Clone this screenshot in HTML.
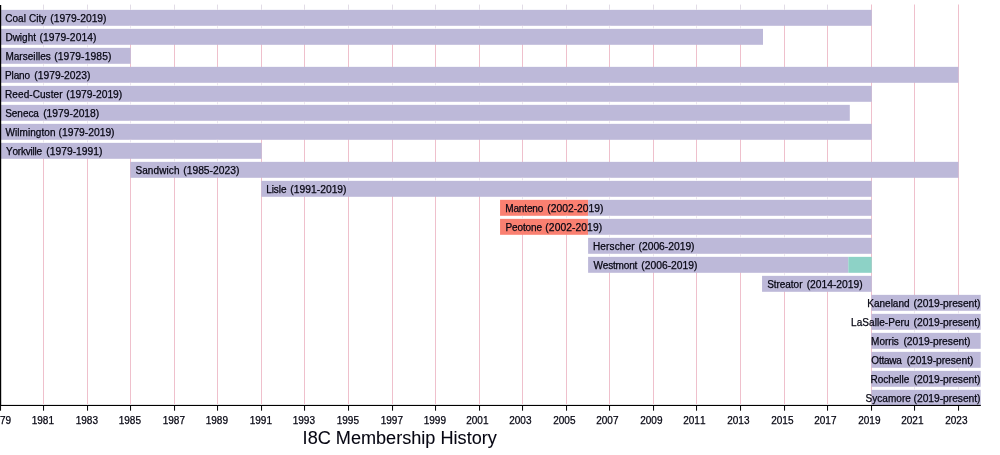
<!DOCTYPE html>
<html><head><meta charset="utf-8"><title>I8C Membership History</title>
<style>
html,body{margin:0;padding:0;background:#fff;}
body{width:1000px;height:455px;overflow:hidden;}
svg{display:block;}
text{font-family:"Liberation Sans",Arial,Helvetica,sans-serif;fill:#060612;white-space:pre;stroke:#060612;stroke-width:0.25px;}
.lb{font-size:10px;}
.lb tspan{font-size:10.3px;}
.tk{font-size:10px;stroke-width:0.1px;}
.tt{font-size:18.13px;stroke-width:0.08px;}
</style></head><body>
<svg width="1000" height="455" viewBox="0 0 1000 455">
<rect width="1000" height="455" fill="#fff"/>

<g stroke="#EFC0CC" stroke-width="1">
<line x1="43.5" y1="4.5" x2="43.5" y2="404"/>
<line x1="87.5" y1="4.5" x2="87.5" y2="404"/>
<line x1="130.5" y1="4.5" x2="130.5" y2="404"/>
<line x1="174.5" y1="4.5" x2="174.5" y2="404"/>
<line x1="217.5" y1="4.5" x2="217.5" y2="404"/>
<line x1="261.5" y1="4.5" x2="261.5" y2="404"/>
<line x1="304.5" y1="4.5" x2="304.5" y2="404"/>
<line x1="348.5" y1="4.5" x2="348.5" y2="404"/>
<line x1="392.5" y1="4.5" x2="392.5" y2="404"/>
<line x1="435.5" y1="4.5" x2="435.5" y2="404"/>
<line x1="479.5" y1="4.5" x2="479.5" y2="404"/>
<line x1="522.5" y1="4.5" x2="522.5" y2="404"/>
<line x1="566.5" y1="4.5" x2="566.5" y2="404"/>
<line x1="609.5" y1="4.5" x2="609.5" y2="404"/>
<line x1="653.5" y1="4.5" x2="653.5" y2="404"/>
<line x1="696.5" y1="4.5" x2="696.5" y2="404"/>
<line x1="740.5" y1="4.5" x2="740.5" y2="404"/>
<line x1="784.5" y1="4.5" x2="784.5" y2="404"/>
<line x1="827.5" y1="4.5" x2="827.5" y2="404"/>
<line x1="871.5" y1="4.5" x2="871.5" y2="404"/>
<line x1="914.5" y1="4.5" x2="914.5" y2="404"/>
<line x1="958.5" y1="4.5" x2="958.5" y2="404"/>
</g>
<g>
<rect x="0.00" y="9.85" width="871.75" height="15.95" fill="#BDB9D9"/>
<rect x="0.00" y="28.85" width="763.00" height="15.95" fill="#BDB9D9"/>
<rect x="0.00" y="47.85" width="130.70" height="15.95" fill="#BDB9D9"/>
<rect x="0.00" y="66.85" width="958.50" height="15.95" fill="#BDB9D9"/>
<rect x="0.00" y="85.85" width="871.75" height="15.95" fill="#BDB9D9"/>
<rect x="0.00" y="104.85" width="849.80" height="15.95" fill="#BDB9D9"/>
<rect x="0.00" y="123.85" width="871.75" height="15.95" fill="#BDB9D9"/>
<rect x="0.00" y="142.85" width="261.70" height="15.95" fill="#BDB9D9"/>
<rect x="130.35" y="161.85" width="828.15" height="15.95" fill="#BDB9D9"/>
<rect x="261.30" y="180.85" width="610.45" height="15.95" fill="#BDB9D9"/>
<rect x="500.05" y="199.85" width="88.05" height="15.95" fill="#FA8071"/>
<rect x="588.10" y="199.85" width="283.65" height="15.95" fill="#BDB9D9"/>
<rect x="500.05" y="218.85" width="88.05" height="15.95" fill="#FA8071"/>
<rect x="588.10" y="218.85" width="283.65" height="15.95" fill="#BDB9D9"/>
<rect x="588.10" y="237.85" width="283.65" height="15.95" fill="#BDB9D9"/>
<rect x="588.10" y="256.85" width="260.20" height="15.95" fill="#BDB9D9"/>
<rect x="848.30" y="256.85" width="23.45" height="15.95" fill="#8DD2C6"/>
<rect x="762.05" y="275.85" width="109.70" height="15.95" fill="#BDB9D9"/>
<rect x="871.40" y="294.85" width="109.30" height="15.95" fill="#BDB9D9"/>
<rect x="871.40" y="313.85" width="109.30" height="15.95" fill="#BDB9D9"/>
<rect x="871.40" y="332.85" width="109.30" height="15.95" fill="#BDB9D9"/>
<rect x="871.40" y="351.85" width="109.30" height="15.95" fill="#BDB9D9"/>
<rect x="871.40" y="370.85" width="109.30" height="15.95" fill="#BDB9D9"/>
<rect x="871.40" y="389.85" width="109.30" height="15.95" fill="#BDB9D9"/>
</g>
<g fill="#EAE6F0">
<rect x="42.7" y="4" width="1.6" height="5.85" fill="#fff"/>
<rect x="43" y="4.6" width="1" height="5.25" fill="#E2DCE6"/>
<rect x="86.7" y="4" width="1.6" height="5.85" fill="#fff"/>
<rect x="87" y="4.6" width="1" height="5.25" fill="#E2DCE6"/>
<rect x="129.7" y="4" width="1.6" height="5.85" fill="#fff"/>
<rect x="130" y="4.6" width="1" height="5.25" fill="#E2DCE6"/>
<rect x="173.7" y="4" width="1.6" height="5.85" fill="#fff"/>
<rect x="174" y="4.6" width="1" height="5.25" fill="#E2DCE6"/>
<rect x="216.7" y="4" width="1.6" height="5.85" fill="#fff"/>
<rect x="217" y="4.6" width="1" height="5.25" fill="#E2DCE6"/>
<rect x="260.7" y="4" width="1.6" height="5.85" fill="#fff"/>
<rect x="261" y="4.6" width="1" height="5.25" fill="#E2DCE6"/>
<rect x="303.7" y="4" width="1.6" height="5.85" fill="#fff"/>
<rect x="304" y="4.6" width="1" height="5.25" fill="#E2DCE6"/>
<rect x="347.7" y="4" width="1.6" height="5.85" fill="#fff"/>
<rect x="348" y="4.6" width="1" height="5.25" fill="#E2DCE6"/>
<rect x="391.7" y="4" width="1.6" height="5.85" fill="#fff"/>
<rect x="392" y="4.6" width="1" height="5.25" fill="#E2DCE6"/>
<rect x="434.7" y="4" width="1.6" height="5.85" fill="#fff"/>
<rect x="435" y="4.6" width="1" height="5.25" fill="#E2DCE6"/>
<rect x="478.7" y="4" width="1.6" height="5.85" fill="#fff"/>
<rect x="479" y="4.6" width="1" height="5.25" fill="#E2DCE6"/>
<rect x="521.7" y="4" width="1.6" height="5.85" fill="#fff"/>
<rect x="522" y="4.6" width="1" height="5.25" fill="#E2DCE6"/>
<rect x="565.7" y="4" width="1.6" height="5.85" fill="#fff"/>
<rect x="566" y="4.6" width="1" height="5.25" fill="#E2DCE6"/>
<rect x="608.7" y="4" width="1.6" height="5.85" fill="#fff"/>
<rect x="609" y="4.6" width="1" height="5.25" fill="#E2DCE6"/>
<rect x="652.7" y="4" width="1.6" height="5.85" fill="#fff"/>
<rect x="653" y="4.6" width="1" height="5.25" fill="#E2DCE6"/>
<rect x="695.7" y="4" width="1.6" height="5.85" fill="#fff"/>
<rect x="696" y="4.6" width="1" height="5.25" fill="#E2DCE6"/>
<rect x="739.7" y="4" width="1.6" height="5.85" fill="#fff"/>
<rect x="740" y="4.6" width="1" height="5.25" fill="#E2DCE6"/>
<rect x="783.7" y="4" width="1.6" height="5.85" fill="#fff"/>
<rect x="784" y="4.6" width="1" height="5.25" fill="#E2DCE6"/>
<rect x="826.7" y="4" width="1.6" height="5.85" fill="#fff"/>
<rect x="827" y="4.6" width="1" height="5.25" fill="#E2DCE6"/>
<rect x="42.7" y="25.80" width="1.6" height="3.05" fill="#fff"/>
<rect x="43" y="26.10" width="1" height="2.45"/>
<rect x="86.7" y="25.80" width="1.6" height="3.05" fill="#fff"/>
<rect x="87" y="26.10" width="1" height="2.45"/>
<rect x="129.7" y="25.80" width="1.6" height="3.05" fill="#fff"/>
<rect x="130" y="26.10" width="1" height="2.45"/>
<rect x="173.7" y="25.80" width="1.6" height="3.05" fill="#fff"/>
<rect x="174" y="26.10" width="1" height="2.45"/>
<rect x="216.7" y="25.80" width="1.6" height="3.05" fill="#fff"/>
<rect x="217" y="26.10" width="1" height="2.45"/>
<rect x="260.7" y="25.80" width="1.6" height="3.05" fill="#fff"/>
<rect x="261" y="26.10" width="1" height="2.45"/>
<rect x="303.7" y="25.80" width="1.6" height="3.05" fill="#fff"/>
<rect x="304" y="26.10" width="1" height="2.45"/>
<rect x="347.7" y="25.80" width="1.6" height="3.05" fill="#fff"/>
<rect x="348" y="26.10" width="1" height="2.45"/>
<rect x="391.7" y="25.80" width="1.6" height="3.05" fill="#fff"/>
<rect x="392" y="26.10" width="1" height="2.45"/>
<rect x="434.7" y="25.80" width="1.6" height="3.05" fill="#fff"/>
<rect x="435" y="26.10" width="1" height="2.45"/>
<rect x="478.7" y="25.80" width="1.6" height="3.05" fill="#fff"/>
<rect x="479" y="26.10" width="1" height="2.45"/>
<rect x="521.7" y="25.80" width="1.6" height="3.05" fill="#fff"/>
<rect x="522" y="26.10" width="1" height="2.45"/>
<rect x="565.7" y="25.80" width="1.6" height="3.05" fill="#fff"/>
<rect x="566" y="26.10" width="1" height="2.45"/>
<rect x="608.7" y="25.80" width="1.6" height="3.05" fill="#fff"/>
<rect x="609" y="26.10" width="1" height="2.45"/>
<rect x="652.7" y="25.80" width="1.6" height="3.05" fill="#fff"/>
<rect x="653" y="26.10" width="1" height="2.45"/>
<rect x="695.7" y="25.80" width="1.6" height="3.05" fill="#fff"/>
<rect x="696" y="26.10" width="1" height="2.45"/>
<rect x="739.7" y="25.80" width="1.6" height="3.05" fill="#fff"/>
<rect x="740" y="26.10" width="1" height="2.45"/>
<rect x="42.7" y="44.80" width="1.6" height="3.05" fill="#fff"/>
<rect x="43" y="45.10" width="1" height="2.45"/>
<rect x="86.7" y="44.80" width="1.6" height="3.05" fill="#fff"/>
<rect x="87" y="45.10" width="1" height="2.45"/>
<rect x="42.7" y="63.80" width="1.6" height="3.05" fill="#fff"/>
<rect x="43" y="64.10" width="1" height="2.45"/>
<rect x="86.7" y="63.80" width="1.6" height="3.05" fill="#fff"/>
<rect x="87" y="64.10" width="1" height="2.45"/>
<rect x="42.7" y="82.80" width="1.6" height="3.05" fill="#fff"/>
<rect x="43" y="83.10" width="1" height="2.45"/>
<rect x="86.7" y="82.80" width="1.6" height="3.05" fill="#fff"/>
<rect x="87" y="83.10" width="1" height="2.45"/>
<rect x="129.7" y="82.80" width="1.6" height="3.05" fill="#fff"/>
<rect x="130" y="83.10" width="1" height="2.45"/>
<rect x="173.7" y="82.80" width="1.6" height="3.05" fill="#fff"/>
<rect x="174" y="83.10" width="1" height="2.45"/>
<rect x="216.7" y="82.80" width="1.6" height="3.05" fill="#fff"/>
<rect x="217" y="83.10" width="1" height="2.45"/>
<rect x="260.7" y="82.80" width="1.6" height="3.05" fill="#fff"/>
<rect x="261" y="83.10" width="1" height="2.45"/>
<rect x="303.7" y="82.80" width="1.6" height="3.05" fill="#fff"/>
<rect x="304" y="83.10" width="1" height="2.45"/>
<rect x="347.7" y="82.80" width="1.6" height="3.05" fill="#fff"/>
<rect x="348" y="83.10" width="1" height="2.45"/>
<rect x="391.7" y="82.80" width="1.6" height="3.05" fill="#fff"/>
<rect x="392" y="83.10" width="1" height="2.45"/>
<rect x="434.7" y="82.80" width="1.6" height="3.05" fill="#fff"/>
<rect x="435" y="83.10" width="1" height="2.45"/>
<rect x="478.7" y="82.80" width="1.6" height="3.05" fill="#fff"/>
<rect x="479" y="83.10" width="1" height="2.45"/>
<rect x="521.7" y="82.80" width="1.6" height="3.05" fill="#fff"/>
<rect x="522" y="83.10" width="1" height="2.45"/>
<rect x="565.7" y="82.80" width="1.6" height="3.05" fill="#fff"/>
<rect x="566" y="83.10" width="1" height="2.45"/>
<rect x="608.7" y="82.80" width="1.6" height="3.05" fill="#fff"/>
<rect x="609" y="83.10" width="1" height="2.45"/>
<rect x="652.7" y="82.80" width="1.6" height="3.05" fill="#fff"/>
<rect x="653" y="83.10" width="1" height="2.45"/>
<rect x="695.7" y="82.80" width="1.6" height="3.05" fill="#fff"/>
<rect x="696" y="83.10" width="1" height="2.45"/>
<rect x="739.7" y="82.80" width="1.6" height="3.05" fill="#fff"/>
<rect x="740" y="83.10" width="1" height="2.45"/>
<rect x="783.7" y="82.80" width="1.6" height="3.05" fill="#fff"/>
<rect x="784" y="83.10" width="1" height="2.45"/>
<rect x="826.7" y="82.80" width="1.6" height="3.05" fill="#fff"/>
<rect x="827" y="83.10" width="1" height="2.45"/>
<rect x="42.7" y="101.80" width="1.6" height="3.05" fill="#fff"/>
<rect x="43" y="102.10" width="1" height="2.45"/>
<rect x="86.7" y="101.80" width="1.6" height="3.05" fill="#fff"/>
<rect x="87" y="102.10" width="1" height="2.45"/>
<rect x="129.7" y="101.80" width="1.6" height="3.05" fill="#fff"/>
<rect x="130" y="102.10" width="1" height="2.45"/>
<rect x="173.7" y="101.80" width="1.6" height="3.05" fill="#fff"/>
<rect x="174" y="102.10" width="1" height="2.45"/>
<rect x="216.7" y="101.80" width="1.6" height="3.05" fill="#fff"/>
<rect x="217" y="102.10" width="1" height="2.45"/>
<rect x="260.7" y="101.80" width="1.6" height="3.05" fill="#fff"/>
<rect x="261" y="102.10" width="1" height="2.45"/>
<rect x="303.7" y="101.80" width="1.6" height="3.05" fill="#fff"/>
<rect x="304" y="102.10" width="1" height="2.45"/>
<rect x="347.7" y="101.80" width="1.6" height="3.05" fill="#fff"/>
<rect x="348" y="102.10" width="1" height="2.45"/>
<rect x="391.7" y="101.80" width="1.6" height="3.05" fill="#fff"/>
<rect x="392" y="102.10" width="1" height="2.45"/>
<rect x="434.7" y="101.80" width="1.6" height="3.05" fill="#fff"/>
<rect x="435" y="102.10" width="1" height="2.45"/>
<rect x="478.7" y="101.80" width="1.6" height="3.05" fill="#fff"/>
<rect x="479" y="102.10" width="1" height="2.45"/>
<rect x="521.7" y="101.80" width="1.6" height="3.05" fill="#fff"/>
<rect x="522" y="102.10" width="1" height="2.45"/>
<rect x="565.7" y="101.80" width="1.6" height="3.05" fill="#fff"/>
<rect x="566" y="102.10" width="1" height="2.45"/>
<rect x="608.7" y="101.80" width="1.6" height="3.05" fill="#fff"/>
<rect x="609" y="102.10" width="1" height="2.45"/>
<rect x="652.7" y="101.80" width="1.6" height="3.05" fill="#fff"/>
<rect x="653" y="102.10" width="1" height="2.45"/>
<rect x="695.7" y="101.80" width="1.6" height="3.05" fill="#fff"/>
<rect x="696" y="102.10" width="1" height="2.45"/>
<rect x="739.7" y="101.80" width="1.6" height="3.05" fill="#fff"/>
<rect x="740" y="102.10" width="1" height="2.45"/>
<rect x="783.7" y="101.80" width="1.6" height="3.05" fill="#fff"/>
<rect x="784" y="102.10" width="1" height="2.45"/>
<rect x="826.7" y="101.80" width="1.6" height="3.05" fill="#fff"/>
<rect x="827" y="102.10" width="1" height="2.45"/>
<rect x="42.7" y="120.80" width="1.6" height="3.05" fill="#fff"/>
<rect x="43" y="121.10" width="1" height="2.45"/>
<rect x="86.7" y="120.80" width="1.6" height="3.05" fill="#fff"/>
<rect x="87" y="121.10" width="1" height="2.45"/>
<rect x="129.7" y="120.80" width="1.6" height="3.05" fill="#fff"/>
<rect x="130" y="121.10" width="1" height="2.45"/>
<rect x="173.7" y="120.80" width="1.6" height="3.05" fill="#fff"/>
<rect x="174" y="121.10" width="1" height="2.45"/>
<rect x="216.7" y="120.80" width="1.6" height="3.05" fill="#fff"/>
<rect x="217" y="121.10" width="1" height="2.45"/>
<rect x="260.7" y="120.80" width="1.6" height="3.05" fill="#fff"/>
<rect x="261" y="121.10" width="1" height="2.45"/>
<rect x="303.7" y="120.80" width="1.6" height="3.05" fill="#fff"/>
<rect x="304" y="121.10" width="1" height="2.45"/>
<rect x="347.7" y="120.80" width="1.6" height="3.05" fill="#fff"/>
<rect x="348" y="121.10" width="1" height="2.45"/>
<rect x="391.7" y="120.80" width="1.6" height="3.05" fill="#fff"/>
<rect x="392" y="121.10" width="1" height="2.45"/>
<rect x="434.7" y="120.80" width="1.6" height="3.05" fill="#fff"/>
<rect x="435" y="121.10" width="1" height="2.45"/>
<rect x="478.7" y="120.80" width="1.6" height="3.05" fill="#fff"/>
<rect x="479" y="121.10" width="1" height="2.45"/>
<rect x="521.7" y="120.80" width="1.6" height="3.05" fill="#fff"/>
<rect x="522" y="121.10" width="1" height="2.45"/>
<rect x="565.7" y="120.80" width="1.6" height="3.05" fill="#fff"/>
<rect x="566" y="121.10" width="1" height="2.45"/>
<rect x="608.7" y="120.80" width="1.6" height="3.05" fill="#fff"/>
<rect x="609" y="121.10" width="1" height="2.45"/>
<rect x="652.7" y="120.80" width="1.6" height="3.05" fill="#fff"/>
<rect x="653" y="121.10" width="1" height="2.45"/>
<rect x="695.7" y="120.80" width="1.6" height="3.05" fill="#fff"/>
<rect x="696" y="121.10" width="1" height="2.45"/>
<rect x="739.7" y="120.80" width="1.6" height="3.05" fill="#fff"/>
<rect x="740" y="121.10" width="1" height="2.45"/>
<rect x="783.7" y="120.80" width="1.6" height="3.05" fill="#fff"/>
<rect x="784" y="121.10" width="1" height="2.45"/>
<rect x="826.7" y="120.80" width="1.6" height="3.05" fill="#fff"/>
<rect x="827" y="121.10" width="1" height="2.45"/>
<rect x="42.7" y="139.80" width="1.6" height="3.05" fill="#fff"/>
<rect x="43" y="140.10" width="1" height="2.45"/>
<rect x="86.7" y="139.80" width="1.6" height="3.05" fill="#fff"/>
<rect x="87" y="140.10" width="1" height="2.45"/>
<rect x="129.7" y="139.80" width="1.6" height="3.05" fill="#fff"/>
<rect x="130" y="140.10" width="1" height="2.45"/>
<rect x="173.7" y="139.80" width="1.6" height="3.05" fill="#fff"/>
<rect x="174" y="140.10" width="1" height="2.45"/>
<rect x="216.7" y="139.80" width="1.6" height="3.05" fill="#fff"/>
<rect x="217" y="140.10" width="1" height="2.45"/>
<rect x="173.7" y="158.80" width="1.6" height="3.05" fill="#fff"/>
<rect x="174" y="159.10" width="1" height="2.45"/>
<rect x="216.7" y="158.80" width="1.6" height="3.05" fill="#fff"/>
<rect x="217" y="159.10" width="1" height="2.45"/>
<rect x="303.7" y="177.80" width="1.6" height="3.05" fill="#fff"/>
<rect x="304" y="178.10" width="1" height="2.45"/>
<rect x="347.7" y="177.80" width="1.6" height="3.05" fill="#fff"/>
<rect x="348" y="178.10" width="1" height="2.45"/>
<rect x="391.7" y="177.80" width="1.6" height="3.05" fill="#fff"/>
<rect x="392" y="178.10" width="1" height="2.45"/>
<rect x="434.7" y="177.80" width="1.6" height="3.05" fill="#fff"/>
<rect x="435" y="178.10" width="1" height="2.45"/>
<rect x="478.7" y="177.80" width="1.6" height="3.05" fill="#fff"/>
<rect x="479" y="178.10" width="1" height="2.45"/>
<rect x="521.7" y="177.80" width="1.6" height="3.05" fill="#fff"/>
<rect x="522" y="178.10" width="1" height="2.45"/>
<rect x="565.7" y="177.80" width="1.6" height="3.05" fill="#fff"/>
<rect x="566" y="178.10" width="1" height="2.45"/>
<rect x="608.7" y="177.80" width="1.6" height="3.05" fill="#fff"/>
<rect x="609" y="178.10" width="1" height="2.45"/>
<rect x="652.7" y="177.80" width="1.6" height="3.05" fill="#fff"/>
<rect x="653" y="178.10" width="1" height="2.45"/>
<rect x="695.7" y="177.80" width="1.6" height="3.05" fill="#fff"/>
<rect x="696" y="178.10" width="1" height="2.45"/>
<rect x="739.7" y="177.80" width="1.6" height="3.05" fill="#fff"/>
<rect x="740" y="178.10" width="1" height="2.45"/>
<rect x="783.7" y="177.80" width="1.6" height="3.05" fill="#fff"/>
<rect x="784" y="178.10" width="1" height="2.45"/>
<rect x="826.7" y="177.80" width="1.6" height="3.05" fill="#fff"/>
<rect x="827" y="178.10" width="1" height="2.45"/>
<rect x="521.7" y="196.80" width="1.6" height="3.05" fill="#fff"/>
<rect x="522" y="197.10" width="1" height="2.45"/>
<rect x="565.7" y="196.80" width="1.6" height="3.05" fill="#fff"/>
<rect x="566" y="197.10" width="1" height="2.45"/>
<rect x="608.7" y="196.80" width="1.6" height="3.05" fill="#fff"/>
<rect x="609" y="197.10" width="1" height="2.45"/>
<rect x="652.7" y="196.80" width="1.6" height="3.05" fill="#fff"/>
<rect x="653" y="197.10" width="1" height="2.45"/>
<rect x="695.7" y="196.80" width="1.6" height="3.05" fill="#fff"/>
<rect x="696" y="197.10" width="1" height="2.45"/>
<rect x="739.7" y="196.80" width="1.6" height="3.05" fill="#fff"/>
<rect x="740" y="197.10" width="1" height="2.45"/>
<rect x="783.7" y="196.80" width="1.6" height="3.05" fill="#fff"/>
<rect x="784" y="197.10" width="1" height="2.45"/>
<rect x="826.7" y="196.80" width="1.6" height="3.05" fill="#fff"/>
<rect x="827" y="197.10" width="1" height="2.45"/>
<rect x="521.7" y="215.80" width="1.6" height="3.05" fill="#fff"/>
<rect x="522" y="216.10" width="1" height="2.45"/>
<rect x="565.7" y="215.80" width="1.6" height="3.05" fill="#fff"/>
<rect x="566" y="216.10" width="1" height="2.45"/>
<rect x="608.7" y="215.80" width="1.6" height="3.05" fill="#fff"/>
<rect x="609" y="216.10" width="1" height="2.45"/>
<rect x="652.7" y="215.80" width="1.6" height="3.05" fill="#fff"/>
<rect x="653" y="216.10" width="1" height="2.45"/>
<rect x="695.7" y="215.80" width="1.6" height="3.05" fill="#fff"/>
<rect x="696" y="216.10" width="1" height="2.45"/>
<rect x="739.7" y="215.80" width="1.6" height="3.05" fill="#fff"/>
<rect x="740" y="216.10" width="1" height="2.45"/>
<rect x="783.7" y="215.80" width="1.6" height="3.05" fill="#fff"/>
<rect x="784" y="216.10" width="1" height="2.45"/>
<rect x="826.7" y="215.80" width="1.6" height="3.05" fill="#fff"/>
<rect x="827" y="216.10" width="1" height="2.45"/>
<rect x="608.7" y="234.80" width="1.6" height="3.05" fill="#fff"/>
<rect x="609" y="235.10" width="1" height="2.45"/>
<rect x="652.7" y="234.80" width="1.6" height="3.05" fill="#fff"/>
<rect x="653" y="235.10" width="1" height="2.45"/>
<rect x="695.7" y="234.80" width="1.6" height="3.05" fill="#fff"/>
<rect x="696" y="235.10" width="1" height="2.45"/>
<rect x="739.7" y="234.80" width="1.6" height="3.05" fill="#fff"/>
<rect x="740" y="235.10" width="1" height="2.45"/>
<rect x="783.7" y="234.80" width="1.6" height="3.05" fill="#fff"/>
<rect x="784" y="235.10" width="1" height="2.45"/>
<rect x="826.7" y="234.80" width="1.6" height="3.05" fill="#fff"/>
<rect x="827" y="235.10" width="1" height="2.45"/>
<rect x="608.7" y="253.80" width="1.6" height="3.05" fill="#fff"/>
<rect x="609" y="254.10" width="1" height="2.45"/>
<rect x="652.7" y="253.80" width="1.6" height="3.05" fill="#fff"/>
<rect x="653" y="254.10" width="1" height="2.45"/>
<rect x="695.7" y="253.80" width="1.6" height="3.05" fill="#fff"/>
<rect x="696" y="254.10" width="1" height="2.45"/>
<rect x="739.7" y="253.80" width="1.6" height="3.05" fill="#fff"/>
<rect x="740" y="254.10" width="1" height="2.45"/>
<rect x="783.7" y="253.80" width="1.6" height="3.05" fill="#fff"/>
<rect x="784" y="254.10" width="1" height="2.45"/>
<rect x="826.7" y="253.80" width="1.6" height="3.05" fill="#fff"/>
<rect x="827" y="254.10" width="1" height="2.45"/>
<rect x="783.7" y="272.80" width="1.6" height="3.05" fill="#fff"/>
<rect x="784" y="273.10" width="1" height="2.45"/>
<rect x="826.7" y="272.80" width="1.6" height="3.05" fill="#fff"/>
<rect x="827" y="273.10" width="1" height="2.45"/>
<rect x="913.7" y="310.80" width="1.6" height="3.05" fill="#fff"/>
<rect x="914" y="311.10" width="1" height="2.45"/>
<rect x="957.7" y="310.80" width="1.6" height="3.05" fill="#fff"/>
<rect x="958" y="311.10" width="1" height="2.45"/>
<rect x="913.7" y="329.80" width="1.6" height="3.05" fill="#fff"/>
<rect x="914" y="330.10" width="1" height="2.45"/>
<rect x="957.7" y="329.80" width="1.6" height="3.05" fill="#fff"/>
<rect x="958" y="330.10" width="1" height="2.45"/>
<rect x="913.7" y="348.80" width="1.6" height="3.05" fill="#fff"/>
<rect x="914" y="349.10" width="1" height="2.45"/>
<rect x="957.7" y="348.80" width="1.6" height="3.05" fill="#fff"/>
<rect x="958" y="349.10" width="1" height="2.45"/>
<rect x="913.7" y="367.80" width="1.6" height="3.05" fill="#fff"/>
<rect x="914" y="368.10" width="1" height="2.45"/>
<rect x="957.7" y="367.80" width="1.6" height="3.05" fill="#fff"/>
<rect x="958" y="368.10" width="1" height="2.45"/>
<rect x="913.7" y="386.80" width="1.6" height="3.05" fill="#fff"/>
<rect x="914" y="387.10" width="1" height="2.45"/>
<rect x="957.7" y="386.80" width="1.6" height="3.05" fill="#fff"/>
<rect x="958" y="387.10" width="1" height="2.45"/>
</g>
<rect x="0" y="5" width="1.2" height="400.5" fill="#000"/>
<rect x="0" y="404.9" width="980.8" height="1.1" fill="#000"/>
<g stroke="#000" stroke-width="1">
<line x1="0.55" y1="405" x2="0.55" y2="410.7"/>
<line x1="43.55" y1="405" x2="43.55" y2="410.7"/>
<line x1="87.55" y1="405" x2="87.55" y2="410.7"/>
<line x1="130.55" y1="405" x2="130.55" y2="410.7"/>
<line x1="174.55" y1="405" x2="174.55" y2="410.7"/>
<line x1="217.55" y1="405" x2="217.55" y2="410.7"/>
<line x1="261.55" y1="405" x2="261.55" y2="410.7"/>
<line x1="304.55" y1="405" x2="304.55" y2="410.7"/>
<line x1="348.55" y1="405" x2="348.55" y2="410.7"/>
<line x1="392.55" y1="405" x2="392.55" y2="410.7"/>
<line x1="435.55" y1="405" x2="435.55" y2="410.7"/>
<line x1="479.55" y1="405" x2="479.55" y2="410.7"/>
<line x1="522.55" y1="405" x2="522.55" y2="410.7"/>
<line x1="566.55" y1="405" x2="566.55" y2="410.7"/>
<line x1="609.55" y1="405" x2="609.55" y2="410.7"/>
<line x1="653.55" y1="405" x2="653.55" y2="410.7"/>
<line x1="696.55" y1="405" x2="696.55" y2="410.7"/>
<line x1="740.55" y1="405" x2="740.55" y2="410.7"/>
<line x1="784.55" y1="405" x2="784.55" y2="410.7"/>
<line x1="827.55" y1="405" x2="827.55" y2="410.7"/>
<line x1="871.55" y1="405" x2="871.55" y2="410.7"/>
<line x1="914.55" y1="405" x2="914.55" y2="410.7"/>
<line x1="958.55" y1="405" x2="958.55" y2="410.7"/>
</g>
<g class="tk">
<text x="-11.26 -5.7 -0.14 5.42" y="423.7">1979</text>
<text x="31.74 37.3 42.86 48.42" y="423.7">1981</text>
<text x="75.74 81.3 86.86 92.42" y="423.7">1983</text>
<text x="118.74 124.3 129.86 135.42" y="423.7">1985</text>
<text x="162.74 168.3 173.86 179.42" y="423.7">1987</text>
<text x="205.74 211.3 216.86 222.42" y="423.7">1989</text>
<text x="249.74 255.3 260.86 266.42" y="423.7">1991</text>
<text x="292.74 298.3 303.86 309.42" y="423.7">1993</text>
<text x="336.74 342.3 347.86 353.42" y="423.7">1995</text>
<text x="380.74 386.3 391.86 397.42" y="423.7">1997</text>
<text x="423.74 429.3 434.86 440.42" y="423.7">1999</text>
<text x="466.2 471.76 477.32 482.88" y="423.7">2001</text>
<text x="509.2 514.76 520.32 525.88" y="423.7">2003</text>
<text x="553.2 558.76 564.32 569.88" y="423.7">2005</text>
<text x="596.2 601.76 607.32 612.88" y="423.7">2007</text>
<text x="640.2 645.76 651.32 656.88" y="423.7">2009</text>
<text x="683.2 688.76 694.32 699.88" y="423.7">2011</text>
<text x="727.2 732.76 738.32 743.88" y="423.7">2013</text>
<text x="771.2 776.76 782.32 787.88" y="423.7">2015</text>
<text x="814.2 819.76 825.32 830.88" y="423.7">2017</text>
<text x="858.2 863.76 869.32 874.88" y="423.7">2019</text>
<text x="901.2 906.76 912.32 917.88" y="423.7">2021</text>
<text x="945.2 950.76 956.32 961.88" y="423.7">2023</text>
</g>
<g class="lb">
<text y="21.85"><tspan style="font-size:10px" x="5.19 12.48 18.12 23.75 26.04 28.89 36.18 38.47 41.32 46.32">Coal City </tspan><tspan x="50.36 53.8 59.53 65.27 71 76.74 80.17 85.91 91.64 97.37 103.11">(1979-2019)</tspan></text>
<text y="40.85"><tspan style="font-size:10px" x="5.38 12.63 19.87 22.12 27.71 33.29 36.07">Dwight </tspan><tspan x="39.46 42.99 48.81 54.64 60.46 66.29 69.81 75.64 81.46 87.28 93.11">(1979-2014)</tspan></text>
<text y="59.85"><tspan style="font-size:10px" x="5.38 13.75 19.35 22.73 27.77 33.37 35.63 37.9 40.16 45.76 50.76">Marseilles </tspan><tspan x="54.16 57.71 63.55 69.4 75.24 81.09 84.63 90.48 96.32 102.16 108.01">(1979-1985)</tspan></text>
<text y="78.85"><tspan style="font-size:10px" x="4.98 11.54 13.65 19.11 24.56 30.12">Plano </tspan><tspan x="34.36 37.78 43.49 49.21 54.92 60.64 64.05 69.77 75.48 81.19 86.91">(1979-2023)</tspan></text>
<text y="97.85"><tspan style="font-size:10px" x="5.08 12.37 18 23.63 29.26 32.66 39.96 45.59 50.66 53.5 59.14 62.47">Reed-Custer </tspan><tspan x="66.26 69.68 75.39 81.11 86.82 92.54 95.95 101.67 107.38 113.09 118.81">(1979-2019)</tspan></text>
<text y="116.85"><tspan style="font-size:10px" x="5.25 11.86 17.37 22.88 28.39 33.34 38.9">Seneca </tspan><tspan x="43.16 46.59 52.31 58.04 63.76 69.49 72.91 78.64 84.36 90.08 95.81">(1979-2018)</tspan></text>
<text y="135.85"><tspan style="font-size:10px" x="5.56 15.04 17.31 19.58 27.96 30.23 35.84 41.45 44.28 49.89 55.45">Wilmington </tspan><tspan x="58.56 61.98 67.69 73.41 79.12 84.84 88.25 93.97 99.68 105.39 111.11">(1979-2019)</tspan></text>
<text y="154.85"><tspan style="font-size:10px" x="5.98 12.45 17.81 20.93 25.73 30.53 32.55 34.56 36.58 42.14">Yorkville </tspan><tspan x="46.26 49.7 55.43 61.17 66.9 72.64 76.07 81.81 87.54 93.27 99.01">(1979-1991)</tspan></text>
<text y="173.85"><tspan style="font-size:10px" x="135.45 142.21 147.86 153.51 159.17 166.48 168.8 173.89 179.45">Sandwich </tspan><tspan x="183.26 186.69 192.41 198.14 203.86 209.59 213.01 218.74 224.46 230.18 235.91">(1985-2023)</tspan></text>
<text y="192.85"><tspan style="font-size:10px" x="266.18 271.67 273.81 278.74 280.88 286.44">Lisle </tspan><tspan x="290.36 293.8 299.53 305.27 311 316.74 320.17 325.91 331.64 337.37 343.11">(1991-2019)</tspan></text>
<text y="211.85"><tspan style="font-size:10px" x="505.18 513.38 518.81 524.24 526.89 532.33 537.76 543.32">Manteno </tspan><tspan x="547.26 550.7 556.43 562.17 567.9 573.64 577.07 582.81 588.54 594.27 600.01">(2002-2019)</tspan></text>
<text y="230.85"><tspan style="font-size:10px" x="505.38 511.97 517.45 522.93 525.62 531.1 536.58 542.14">Peotone </tspan><tspan x="545.36 548.86 554.65 560.45 566.24 572.04 575.53 581.33 587.12 592.91 598.71">(2002-2019)</tspan></text>
<text y="249.85"><tspan style="font-size:10px" x="592.98 600.35 606.05 609.53 614.68 619.82 625.53 631.24 634.57">Herscher </tspan><tspan x="638.56 641.98 647.69 653.41 659.12 664.84 668.25 673.97 679.68 685.39 691.11">(2006-2019)</tspan></text>
<text y="268.85"><tspan style="font-size:10px" x="593.46 602.74 608.14 612.99 615.61 623.78 629.19 634.59 637.37">Westmont </tspan><tspan x="641.26 644.7 650.43 656.17 661.9 667.64 671.07 676.81 682.54 688.27 694.01">(2006-2019)</tspan></text>
<text y="287.85"><tspan style="font-size:10px" x="767.15 773.78 776.52 779.82 785.34 790.87 793.61 799.14 802.47">Streator </tspan><tspan x="806.66 810.08 815.79 821.51 827.22 832.94 836.35 842.07 847.78 853.49 859.21">(2014-2019)</tspan></text>
<text y="306.85"><tspan style="font-size:10px" x="867.28 873.95 879.51 885.07 890.64 892.86 898.42 903.98 909.54">Kaneland </tspan><tspan x="913.56 916.95 922.63 928.31 934 939.68 943.07 948.75 952.14 957.82 962.92 968.61 974.29 977.11">(2019-present)</tspan></text>
<text y="325.85"><tspan style="font-size:10px" x="851.08 856.7 862.32 869.06 874.68 876.96 879.24 884.87 888.26 894.99 900.61 904 909.56">LaSalle-Peru </tspan><tspan x="913.56 916.95 922.63 928.31 934 939.68 943.07 948.75 952.14 957.82 962.92 968.61 974.29 977.11">(2019-present)</tspan></text>
<text y="344.85"><tspan style="font-size:10px" x="871.08 879.41 884.97 888.31 891.64 893.86 898.86">Morris </tspan><tspan x="903.46 906.85 912.55 918.24 923.93 929.62 933.01 938.7 942.1 947.79 952.9 958.59 964.28 967.11">(2019-present)</tspan></text>
<text y="363.85"><tspan style="font-size:10px" x="871.33 878.88 881.44 884 889.34 896.34 901.9">Ottawa </tspan><tspan x="906.66 910.03 915.7 921.37 927.04 932.7 936.07 941.74 945.11 950.78 955.87 961.54 967.21 970.01">(2019-present)</tspan></text>
<text y="382.85"><tspan style="font-size:10px" x="870.48 877.69 883.25 888.24 893.8 899.35 901.57 903.78 909.34">Rochelle </tspan><tspan x="913.56 916.95 922.63 928.31 934 939.68 943.07 948.75 952.14 957.82 962.92 968.61 974.29 977.11">(2019-present)</tspan></text>
<text y="401.85"><tspan style="font-size:10px" x="865.45 872.17 877.23 882.28 887.9 896.28 901.9 905.28 910.84">Sycamore </tspan><tspan x="913.56 916.95 922.63 928.31 934 939.68 943.07 948.75 952.14 957.82 962.92 968.61 974.29 977.11">(2019-present)</tspan></text>
</g>
<text class="tt" x="302.6" y="444">I8C Membership History</text>
</svg></body></html>
